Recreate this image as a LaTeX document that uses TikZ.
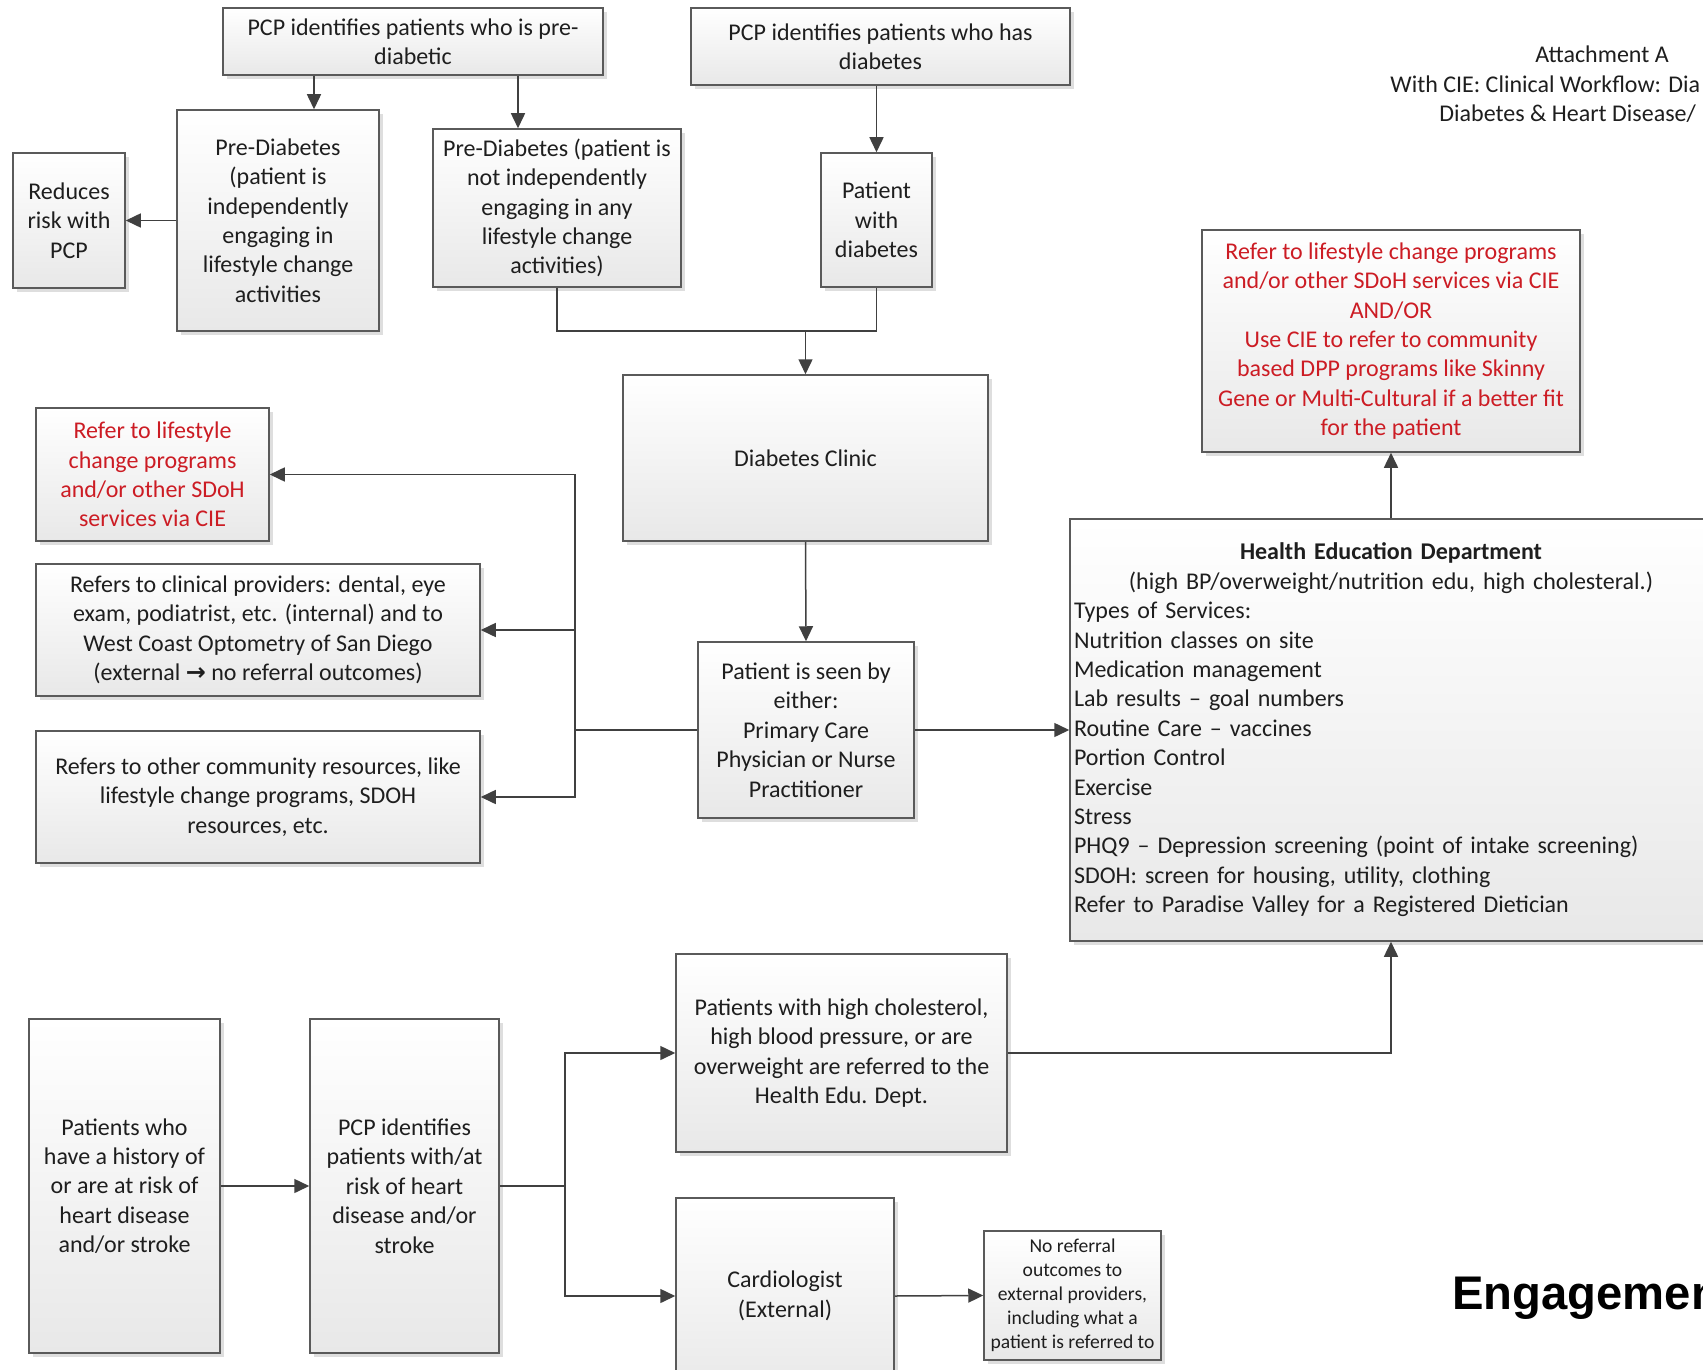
\documentclass[tikz,border=0pt]{standalone}
\usepackage{fontspec}
\setmainfont{Carlito}
\newfontfamily\arialfont{Liberation Sans}
\newfontfamily\dejavu{DejaVu Sans}
\usetikzlibrary{arrows.meta,shadows}
\definecolor{redtxt}{RGB}{204,28,36}
\definecolor{linec}{RGB}{64,64,64}
\definecolor{borderc}{RGB}{90,90,90}
\definecolor{txtc}{RGB}{30,30,30}
\tikzset{
  box/.style={draw=borderc, line width=0.75pt, top color=white, bottom color=black!9,
    drop shadow={shadow xshift=2pt, shadow yshift=-2pt, fill=black!25, opacity=0.5},
    align=center, inner sep=2pt, text=txtc, font=\fontsize{12}{14.7}\selectfont},
  sz/.style 2 args={minimum width=#1*0.5pt, minimum height=#2*0.5pt},
  redbox/.style={box, text=redtxt},
  conn/.style={draw=linec, line width=0.75pt},
  arr/.style={conn, -{Triangle[length=7.5pt,width=7pt]}, color=linec}
}
\begin{document}
\begin{tikzpicture}[x=0.5pt,y=-0.5pt]
\clip (0,0) rectangle (1703,1370);
\fill[white] (0,0) rectangle (1703,1370);

% title
\node[inner sep=0, font=\fontsize{12}{14.7}\selectfont, text=txtc] (t1) at (1602,54) {Attachment A};
\node[inner sep=0, anchor=mid west, font=\fontsize{12}{14.7}\selectfont, text=txtc] (t2) at (1390,88) {With CIE: Clinical Workflow: Dia};
\node[inner sep=0, anchor=mid west, font=\fontsize{12}{14.7}\selectfont, text=txtc] (t3) at (1439,117) {Diabetes \& Heart Disease/};
\node[inner sep=0, anchor=mid west, font=\arialfont\bfseries\fontsize{23.6}{28}\selectfont, text=black] (eng) at (1452,1305) {Engagemen};

% boxes
\node[box, sz={380}{67}] (b1) at (413,41.5) {PCP identifies patients who is pre-\\diabetic};
\node[box, sz={379}{77}] (b2) at (880.5,46.5) {PCP identifies patients who has\\diabetes};
\node[box, sz={112}{135}] (reduce) at (69,220.5) {Reduces\\risk with\\PCP};
\node[box, sz={202}{221}] (pdi) at (278,220.5) {Pre-Diabetes\\(patient is\\independently\\engaging in\\lifestyle change\\activities};
\node[box, sz={248}{158}] (pdn) at (557,208) {Pre-Diabetes (patient is\\not independently\\engaging in any\\lifestyle change\\activities)};
\node[box, sz={111}{134}] (pwd) at (876.5,220) {Patient\\with\\diabetes};
\node[box, sz={365}{166}] (clinic) at (805.5,458) {Diabetes Clinic};
\node[redbox, sz={378}{222}] (redtop) at (1391,341) {Refer to lifestyle change programs\\and/or other SDoH services via CIE\\AND/OR\\Use CIE to refer to community\\based DPP programs like Skinny\\Gene or Multi-Cultural if a better fit\\for the patient};
\node[redbox, sz={233}{133}] (redleft) at (152.5,474.5) {Refer to lifestyle\\change programs\\and/or other SDoH\\services via CIE};
\node[box, sz={444}{132}] (clinical) at (258,630) {Refers to clinical providers: dental, eye\\exam, podiatrist, etc. (internal) and to\\West Coast Optometry of San Diego\\(external {\dejavu\bfseries\fontsize{12}{14}\selectfont →} no referral outcomes)};
\node[box, sz={444}{132}] (community) at (258,797) {Refers to other community resources, like\\lifestyle change programs, SDOH\\resources, etc.};
\node[box, sz={216}{176}] (seen) at (806,730) {Patient is seen by\\either:\\Primary Care\\Physician or Nurse\\Practitioner};
\node[box, sz={642}{422}, text width=317pt, align=left] (healthed) at (1391,730) {{\centering\textbf{Health Education Department}\\(high BP/overweight/nutrition edu, high cholesteral.)\par}\raggedright Types of Services:\\Nutrition classes on site\\Medication management\\Lab results -- goal numbers\\Routine Care -- vaccines\\Portion Control\\Exercise\\Stress\\PHQ9 -- Depression screening (point of intake screening)\\SDOH: screen for housing, utility, clothing\\Refer to Paradise Valley for a Registered Dietician};
\node[box, sz={331}{198}] (highchol) at (841.5,1053) {Patients with high cholesterol,\\high blood pressure, or are\\overweight are referred to the\\Health Edu. Dept.};
\node[box, sz={191}{334}] (history) at (124.5,1186) {Patients who\\have a history of\\or are at risk of\\heart disease\\and/or stroke};
\node[box, sz={189}{334}] (pcpheart) at (404.5,1186) {PCP identifies\\patients with/at\\risk of heart\\disease and/or\\stroke};
\node[box, sz={218}{196}] (cardio) at (785,1296) {Cardiologist\\(External)};
\node[box, sz={177}{129}, font=\fontsize{9.8}{12}\selectfont] (noref) at (1072.5,1295.5) {No referral\\outcomes to\\external providers,\\including what a\\patient is referred to};

% helper coordinates
\coordinate (cA) at (314,0);
\coordinate (cB) at (518,0);
\coordinate (jy) at (0,331);
\coordinate (vx) at (575,0);
\coordinate (vx2) at (565,0);

% connectors
\draw[arr] (b1.south -| cA) -- (pdi.north -| cA);
\draw[arr] (b1.south -| cB) -- (pdn.north -| cB);
\draw[arr] (b2.south -| pwd.north) -- (pwd.north);
\draw[arr] (pdi.west) -- (reduce.east);
\draw[conn] (pdn.south) -- (pdn.south |- jy) -| (pwd.south);
\draw[arr] (clinic.north |- jy) -- (clinic.north);
\draw[arr] (clinic.south) -- (seen.north);
\draw[conn] (seen.west) -- (seen.west -| vx);
\draw[arr] (seen.west -| vx) |- (redleft.east);
\draw[arr] (seen.west -| vx) |- (clinical.east);
\draw[arr] (seen.west -| vx) |- (community.east);
\draw[arr] (seen.east) -- (healthed.west);
\draw[arr] (healthed.north) -- (redtop.south);
\draw[arr] (highchol.east) -| (healthed.south);
\draw[arr] (history.east) -- (pcpheart.west);
\draw[conn] (pcpheart.east) -- (pcpheart.east -| vx2);
\draw[arr] (pcpheart.east -| vx2) |- (highchol.west);
\draw[arr] (pcpheart.east -| vx2) |- (cardio.west);
\draw[arr] (cardio.east) -- (noref.west);
\end{tikzpicture}
\end{document}
